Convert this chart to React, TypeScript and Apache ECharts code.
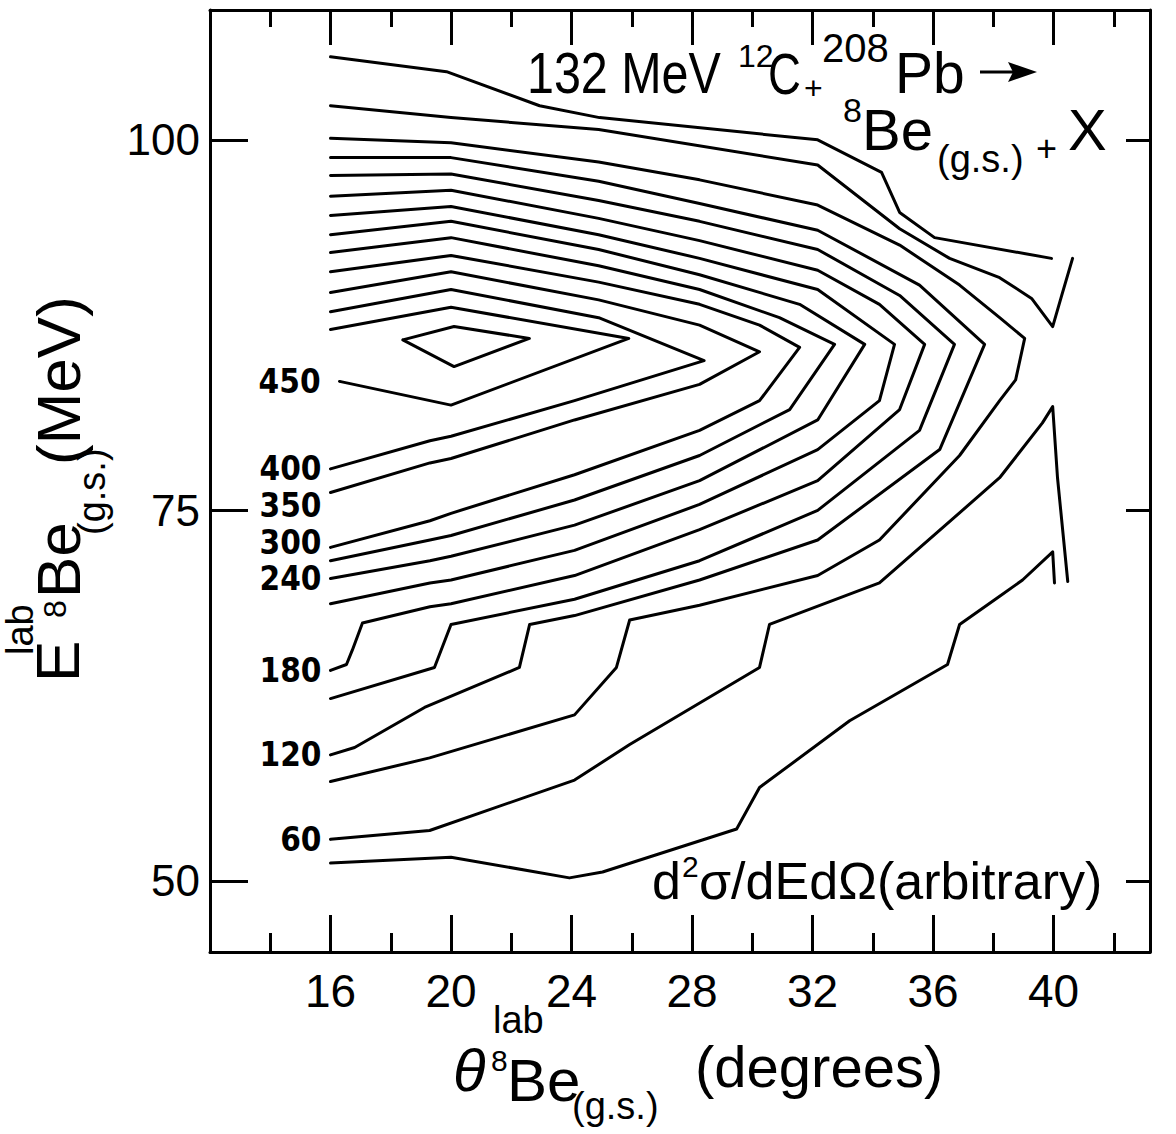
import React, { useEffect, useRef } from "react";
import * as echarts from "echarts";

// Axis ticks (degrees on x, MeV on y)
const xMajorTicks = [16, 20, 24, 28, 32, 36, 40];
const xMinorTicks = [14, 18, 22, 26, 30, 34, 38, 42];
const yTicks = [50, 75, 100];

// Contour polylines: [theta (deg), E (MeV)]
const contour500 = [[18.4, 86.5], [20.1, 87.4], [22.6, 86.6], [20.1, 84.7], [18.4, 86.5]];
const contour450 = [[16, 87.2], [20, 88.7], [25.9, 86.6], [20, 82.1], [16.3, 83.7]];
const contour400 = [[16, 88.4], [20, 89.9], [24.9, 88.0], [28.4, 85.1], [24.1, 82.4], [20, 80.0], [19.3, 79.7], [16, 77.8]];
const contour350 = [[16, 89.7], [20, 91.1], [24.9, 89.2], [28.25, 87.5], [30.24, 85.7], [28.25, 83.5], [24.1, 81.1], [20, 78.5], [19.3, 78.2], [16, 76.2]];
const contour300 = [[16, 91.1], [20, 92.2], [24.9, 90.4], [28.25, 88.9], [30.24, 87.5], [31.57, 86.0], [30.24, 82.4], [28.25, 80.4], [24.1, 77.4], [20, 74.8], [19.3, 74.3], [16, 72.5]];
const contour270 = [[16, 92.4], [20, 93.4], [24.9, 91.5], [28.25, 89.9], [30.9, 88.0], [32.73, 86.2], [31.24, 81.8], [28.25, 78.7], [24.1, 75.7], [20, 73.3], [19.3, 73.0], [16, 71.6]];
const contour240 = [[16, 93.6], [20, 94.5], [24.9, 92.6], [28.25, 90.9], [31.57, 88.9], [33.73, 86.2], [32.17, 81.1], [28.25, 77.0], [24.1, 74.0], [20, 71.9], [19.3, 71.6], [16, 70.4]];
const contour210 = [[16, 94.9], [20, 95.5], [24.9, 93.6], [28.25, 92.0], [32.17, 89.9], [34.72, 86.2], [34.22, 82.4], [32.17, 79.1], [28.25, 75.4], [24.1, 72.3], [20, 70.3], [19.3, 70.1], [16, 68.7]];
const contour180 = [[16, 96.2], [20, 96.6], [24.9, 94.7], [28.25, 93.2], [32.17, 91.2], [34.22, 88.9], [35.72, 86.2], [34.89, 81.8], [32.17, 77.0], [28.25, 73.7], [24.1, 70.6], [20, 68.7], [19.3, 68.5], [17.06, 67.4], [16.73, 65.6], [16.53, 64.6], [16, 64.2]];
const contour150 = [[16, 97.6], [20, 97.7], [24.9, 95.9], [28.25, 94.5], [32.17, 92.6], [34.89, 89.5], [36.71, 86.2], [35.55, 80.4], [32.17, 75.0], [28.25, 71.6], [24.1, 69.0], [20, 67.3], [19.45, 64.4], [16, 62.3]];
const contour120 = [[16, 98.8], [20, 98.8], [24.9, 97.2], [28.25, 95.7], [32.17, 93.9], [35.55, 90.2], [37.71, 86.2], [36.22, 79.1], [32.17, 73.0], [28.25, 70.3], [24.1, 67.9], [22.61, 67.3], [22.27, 64.4], [19.12, 61.7], [16.8, 59.0], [16, 58.5]];
const contour90 = [[16, 100.1], [20, 99.8], [24.9, 98.5], [28.25, 97.3], [32.17, 95.6], [34.89, 92.9], [36.88, 90.2], [38.21, 88.0], [39.04, 86.6], [38.74, 83.8], [38.21, 82.4], [36.88, 78.7], [34.22, 73.0], [32.17, 70.6], [28.25, 68.6], [25.93, 67.6], [25.49, 64.4], [24.1, 61.2], [19.29, 58.3], [16, 56.7]];
const contour60Upper = [[16, 102.3], [20, 101.5], [24.9, 100.7], [32.17, 98.3], [34.89, 94.0], [36.55, 92.0], [38.21, 90.7], [39.27, 89.3], [39.97, 87.4], [40.27, 89.5], [40.63, 92.0]];
const contour60Lower = [[16, 52.8], [19.29, 53.4], [24.1, 56.8], [25.93, 59.2], [30.24, 64.4], [30.57, 67.3], [34.22, 70.1], [38.21, 77.2], [39.63, 80.9], [39.97, 82.0], [40.13, 77.2], [40.47, 70.2]];
const contour30Upper = [[16, 105.6], [19.85, 104.6], [22.94, 102.3], [24.93, 101.5], [32.17, 100.0], [34.29, 97.8], [34.89, 95.1], [36.05, 93.4], [39.93, 92.0]];
const contour30Lower = [[16, 51.2], [20, 51.6], [23.93, 50.2], [25.03, 50.6], [29.48, 53.5], [30.24, 56.3], [33.23, 60.8], [36.48, 64.6], [36.88, 67.3], [38.21, 69.2], [38.97, 70.3], [39.97, 72.2], [40.03, 70.1]];

type Contour = {
  level: number;
  points: number[][];
  labelAt: "first" | "last" | null;
  gap?: number;
  shift?: number;
};

const contours: Contour[] = [
  { level: 500, points: contour500, labelAt: null },
  { level: 450, points: contour450, labelAt: "last", gap: 18 },
  { level: 400, points: contour400, labelAt: "last" },
  { level: 350, points: contour350, labelAt: "last", shift: 13 },
  { level: 300, points: contour300, labelAt: "last", shift: -5 },
  { level: 270, points: contour270, labelAt: null },
  { level: 240, points: contour240, labelAt: "last" },
  { level: 210, points: contour210, labelAt: null },
  { level: 180, points: contour180, labelAt: "last" },
  { level: 150, points: contour150, labelAt: null },
  { level: 120, points: contour120, labelAt: "last" },
  { level: 90, points: contour90, labelAt: null },
  { level: 60, points: contour60Upper, labelAt: null },
  { level: 60, points: contour60Lower, labelAt: "first" },
  { level: 30, points: contour30Upper, labelAt: null },
  { level: 30, points: contour30Lower, labelAt: null },
];

const SANS = "'Liberation Sans', Arial, sans-serif";
const NARROW = "'Liberation Sans Narrow', 'DejaVu Sans Condensed', 'Liberation Sans', sans-serif";
const INK = "#000";

const X_MIN = 12;
const X_MAX = 43.2;
const Y_MIN = 45.2;
const Y_MAX = 108.76;

function txt(text: string, x: number, y: number, fontSize: number, extra: any = {}) {
  const { rotation = 0, scaleX = 1, fontStyle = "normal", fontFamily = SANS } = extra;
  return {
    type: "text",
    x,
    y,
    rotation,
    scaleX,
    silent: true,
    style: {
      text,
      fontSize,
      fontFamily,
      fontStyle,
      fill: INK,
      align: "left",
      verticalAlign: "middle",
      textAlign: "left",
      textVerticalAlign: "middle",
    },
  };
}

function buildSeries() {
  return contours.map((c) => {
    const idx = c.labelAt === "first" ? 0 : c.labelAt === "last" ? c.points.length - 1 : -1;
    return {
      type: "line",
      name: String(c.level),
      xAxisIndex: 0,
      yAxisIndex: 0,
      symbol: "none",
      showSymbol: true,
      silent: true,
      lineStyle: { color: INK, width: 3, cap: "round", join: "round" },
      data: c.points.map((p, i) =>
        i === idx
          ? {
              value: p,
              symbol: "circle",
              symbolSize: 2,
              itemStyle: { color: INK },
              label: {
                show: true,
                position: "left",
                distance: c.gap ?? 8,
                offset: [0, c.shift ?? 0],
                formatter: String(c.level),
                fontSize: 33,
                lineHeight: 28,
                fontWeight: "bold",
                fontFamily: NARROW,
                color: INK,
              },
            }
          : p
      ),
    };
  });
}

const axisLineStyle = { show: true, onZero: false, lineStyle: { color: INK, width: 3 } };

function buildOption(): any {
  const gridBox = { left: 210, right: 26, top: 10, bottom: 182 };
  return {
    animation: false,
    backgroundColor: "#fff",
    grid: [
      { ...gridBox, containLabel: false },
      { ...gridBox, containLabel: false },
    ],
    xAxis: [
      {
        type: "value",
        gridIndex: 0,
        position: "bottom",
        min: X_MIN,
        max: X_MAX,
        axisLine: axisLineStyle,
        axisTick: { show: true, inside: true, length: 37, lineStyle: { color: INK, width: 3 }, customValues: xMajorTicks },
        axisLabel: { show: true, customValues: xMajorTicks, fontSize: 46, fontFamily: SANS, color: INK, margin: 16 },
        splitLine: { show: false },
      },
      {
        type: "value",
        gridIndex: 0,
        position: "top",
        min: X_MIN,
        max: X_MAX,
        axisLine: axisLineStyle,
        axisTick: { show: true, inside: true, length: 35, lineStyle: { color: INK, width: 3 }, customValues: xMajorTicks },
        axisLabel: { show: false },
        splitLine: { show: false },
      },
      {
        type: "value",
        gridIndex: 1,
        position: "bottom",
        min: X_MIN,
        max: X_MAX,
        axisLine: { show: false },
        axisTick: { show: true, inside: true, length: 19, lineStyle: { color: INK, width: 3 }, customValues: xMinorTicks },
        axisLabel: { show: false },
        splitLine: { show: false },
      },
      {
        type: "value",
        gridIndex: 1,
        position: "top",
        min: X_MIN,
        max: X_MAX,
        axisLine: { show: false },
        axisTick: { show: true, inside: true, length: 17, lineStyle: { color: INK, width: 3 }, customValues: xMinorTicks },
        axisLabel: { show: false },
        splitLine: { show: false },
      },
    ],
    yAxis: [
      {
        type: "value",
        gridIndex: 0,
        position: "left",
        min: Y_MIN,
        max: Y_MAX,
        axisLine: axisLineStyle,
        axisTick: { show: true, inside: true, length: 38, lineStyle: { color: INK, width: 3 }, customValues: yTicks },
        axisLabel: { show: true, customValues: yTicks, fontSize: 44, fontFamily: SANS, color: INK, margin: 10 },
        splitLine: { show: false },
      },
      {
        type: "value",
        gridIndex: 0,
        position: "right",
        min: Y_MIN,
        max: Y_MAX,
        axisLine: axisLineStyle,
        axisTick: { show: true, inside: true, length: 24, lineStyle: { color: INK, width: 3 }, customValues: yTicks },
        axisLabel: { show: false },
        splitLine: { show: false },
      },
      {
        type: "value",
        gridIndex: 1,
        min: Y_MIN,
        max: Y_MAX,
        show: false,
      },
    ],
    series: buildSeries(),
    graphic: [
      // reaction heading
      txt("132 MeV", 527, 73, 57, { scaleX: 0.85 }),
      txt("12", 738, 56, 32),
      txt("C", 768, 74, 57, { scaleX: 0.8 }),
      txt("+", 804, 88, 32),
      txt("208", 822, 48, 40),
      txt("Pb", 895, 73, 57),
      { type: "line", silent: true, shape: { x1: 980, y1: 72, x2: 1014, y2: 72 }, style: { stroke: INK, lineWidth: 3 } },
      { type: "polygon", silent: true, shape: { points: [[1037, 72], [1008, 62], [1013, 72], [1008, 82]] }, style: { fill: INK } },
      txt("8", 843, 110, 34),
      txt("Be", 862, 129, 58),
      txt("(g.s.)", 937, 159, 38),
      txt("+", 1036, 148, 36),
      txt("X", 1068, 129, 58),
      // cross-section note
      txt("d", 652, 881, 52),
      txt("2", 682, 866, 30),
      txt("σ/dEdΩ(arbitrary)", 699, 881, 52),
      // x-axis title
      txt("θ", 453, 1070, 60, { fontStyle: "italic" }),
      txt("lab", 493, 1020, 38),
      txt("8", 491, 1060, 30),
      txt("Be", 507, 1080, 60),
      txt("(g.s.)", 572, 1106, 38),
      txt("(degrees)", 695, 1066, 58),
      // y-axis title (reads bottom to top)
      txt("E", 57, 682, 62, { rotation: Math.PI / 2 }),
      txt("lab", 20, 655, 38, { rotation: Math.PI / 2 }),
      txt("8", 55, 618, 32, { rotation: Math.PI / 2 }),
      txt("Be", 58, 598, 62, { rotation: Math.PI / 2 }),
      txt("(g.s.)", 92, 535, 38, { rotation: Math.PI / 2 }),
      txt("(MeV)", 58, 465, 62, { rotation: Math.PI / 2 }),
    ],
  };
}

export default function App() {
  const ref = useRef<HTMLDivElement>(null);
  useEffect(() => {
    if (!ref.current) return;
    const chart = echarts.init(ref.current, null, { renderer: "svg" });
    chart.setOption(buildOption());
    return () => chart.dispose();
  }, []);
  return (
    <div
      ref={ref}
      style={{ position: "absolute", left: 0, top: 0, width: 1176, height: 1134, background: "#fff" }}
    />
  );
}
